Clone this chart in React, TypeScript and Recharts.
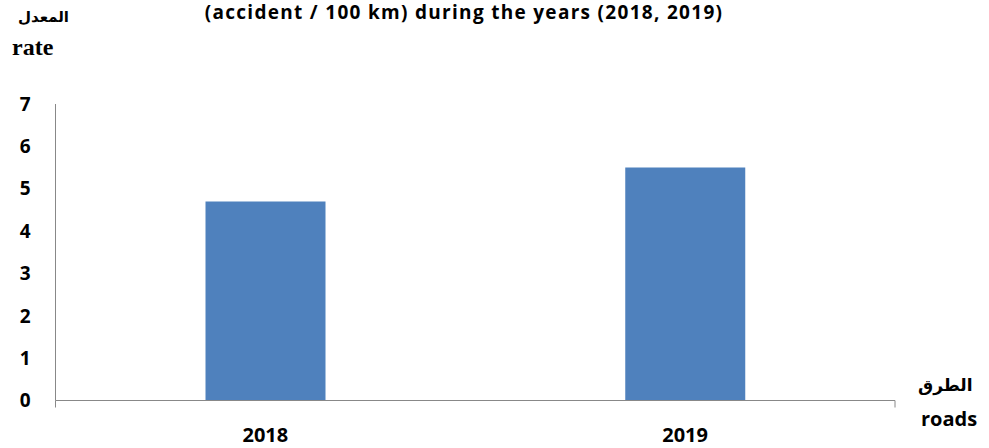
import { BarChart, Bar, XAxis, YAxis } from 'recharts';

const years = ['2018', '2019'];
const rates = [4.7, 5.5];
const yTicks = [0, 1, 2, 3, 4, 5, 6, 7];
const frameTicks = [0, 1, 2];

const data = years.map((year, i) => ({ year, rate: rates[i] }));

const sans = '"Open Sans", Calibri, sans-serif';
const arabic = '"DejaVu Sans", sans-serif';

const App = () => {
  return (
    <div style={{ position: 'absolute', left: 0, top: 0, width: 989, height: 448, background: '#fff' }}>
      <BarChart
        width={989}
        height={448}
        data={data}
        margin={{ top: 104, right: 94, left: 15.5, bottom: 0 }}
      >
        <XAxis
          xAxisId="axis"
          type="number"
          domain={[0, 2]}
          ticks={frameTicks}
          height={1}
          stroke="#888"
          tickSize={7}
          tickFormatter={() => ''}
          allowDataOverflow
        />
        <XAxis
          xAxisId="labels"
          dataKey="year"
          height={46.5}
          axisLine={false}
          tickLine={false}
          tickMargin={20}
          tick={{ fill: '#000', fontSize: 20, fontWeight: 700, fontFamily: sans }}
        />
        <YAxis
          domain={[0, 7]}
          ticks={yTicks}
          width={40}
          stroke="#888"
          tickLine={false}
          tickMargin={19}
          tick={{ fill: '#000', fontSize: 19, fontWeight: 700, fontFamily: sans }}
        />
        <Bar dataKey="rate" xAxisId="labels" fill="#4f81bd" barSize={120} isAnimationActive={false} />
      </BarChart>
      <div style={{ position: 'absolute', left: 0, width: 928, top: 2, lineHeight: '20px', textAlign: 'center', fontFamily: sans, fontWeight: 700, fontSize: 19, letterSpacing: 1.3, color: '#000' }}>
        (accident / 100 km) during the years (2018, 2019)
      </div>
      <div style={{ position: 'absolute', left: 18, top: 8, fontFamily: arabic, fontWeight: 700, fontSize: 15, direction: 'rtl' }}>
        المعدل
      </div>
      <div style={{ position: 'absolute', left: 12, top: 34, fontFamily: '"Liberation Serif", serif', fontWeight: 700, fontSize: 24 }}>
        rate
      </div>
      <div style={{ position: 'absolute', left: 918, top: 375, fontFamily: arabic, fontWeight: 700, fontSize: 17, direction: 'rtl' }}>
        الطرق
      </div>
      <div style={{ position: 'absolute', left: 921, top: 405, fontFamily: sans, fontWeight: 700, fontSize: 20 }}>
        roads
      </div>
    </div>
  );
};

export default App;
